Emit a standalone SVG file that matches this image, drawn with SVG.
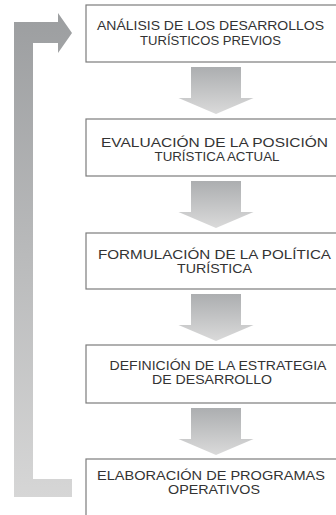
<svg xmlns="http://www.w3.org/2000/svg" width="336" height="515" viewBox="0 0 336 515">
<defs>
<linearGradient id="gArrow" x1="0" y1="0" x2="0" y2="1">
<stop offset="0" stop-color="#acaeb0"/>
<stop offset="1" stop-color="#dadada"/>
</linearGradient>
<linearGradient id="gLoop" gradientUnits="userSpaceOnUse" x1="0" y1="13" x2="0" y2="497">
<stop offset="0" stop-color="#9c9ea0"/>
<stop offset="1" stop-color="#d6d6d6"/>
</linearGradient>
<path id="down" d="M-25,0 H25 V31 H37.5 L0,47 L-37.5,31 H-25 Z"/>
</defs>
<style>
.box{fill:#ffffff;stroke:#7c7c7c;stroke-width:1.2}
.t{font-family:"Liberation Sans",Arial,sans-serif;font-size:13px;fill:#333333;text-anchor:middle}
.arr{fill:url(#gArrow)}
</style>
<rect width="336" height="515" fill="#ffffff"/>
<g id="connectors">
<path id="loop" d="M14,497 V22 H58 V13 L72,33 L58,53 V43 H33 V479 H72 V497 Z" fill="url(#gLoop)"/>
<use href="#down" class="arr" x="216" y="67"/>
<use href="#down" class="arr" x="216" y="181"/>
<use href="#down" class="arr" x="216" y="294"/>
<use href="#down" class="arr" x="216" y="408"/>
</g>
<g id="n1">
<rect class="box" x="86" y="5" width="260" height="57"/>
<text class="t" x="210.5" y="30" textLength="227" lengthAdjust="spacingAndGlyphs">ANÁLISIS DE LOS DESARROLLOS</text>
<text class="t" x="210.5" y="45" textLength="141" lengthAdjust="spacingAndGlyphs">TURÍSTICOS PREVIOS</text>
</g>
<g id="n2">
<rect class="box" x="86" y="119" width="260" height="57"/>
<text class="t" x="214.5" y="147" textLength="227" lengthAdjust="spacingAndGlyphs">EVALUACIÓN DE LA POSICIÓN</text>
<text class="t" x="217" y="161" textLength="125" lengthAdjust="spacingAndGlyphs">TURÍSTICA ACTUAL</text>
</g>
<g id="n3">
<rect class="box" x="86" y="233" width="260" height="56"/>
<text class="t" x="214.5" y="259" textLength="233" lengthAdjust="spacingAndGlyphs">FORMULACIÓN DE LA POLÍTICA</text>
<text class="t" x="214.5" y="273" textLength="75" lengthAdjust="spacingAndGlyphs">TURÍSTICA</text>
</g>
<g id="n4">
<rect class="box" x="86" y="345" width="260" height="58"/>
<text class="t" x="218" y="370" textLength="217" lengthAdjust="spacingAndGlyphs">DEFINICIÓN DE LA ESTRATEGIA</text>
<text class="t" x="212" y="384" textLength="120" lengthAdjust="spacingAndGlyphs">DE DESARROLLO</text>
</g>
<g id="n5">
<rect class="box" x="86" y="459" width="260" height="70"/>
<text class="t" x="211" y="480" textLength="228" lengthAdjust="spacingAndGlyphs">ELABORACIÓN DE PROGRAMAS</text>
<text class="t" x="214" y="494" textLength="92" lengthAdjust="spacingAndGlyphs">OPERATIVOS</text>
</g>
</svg>
